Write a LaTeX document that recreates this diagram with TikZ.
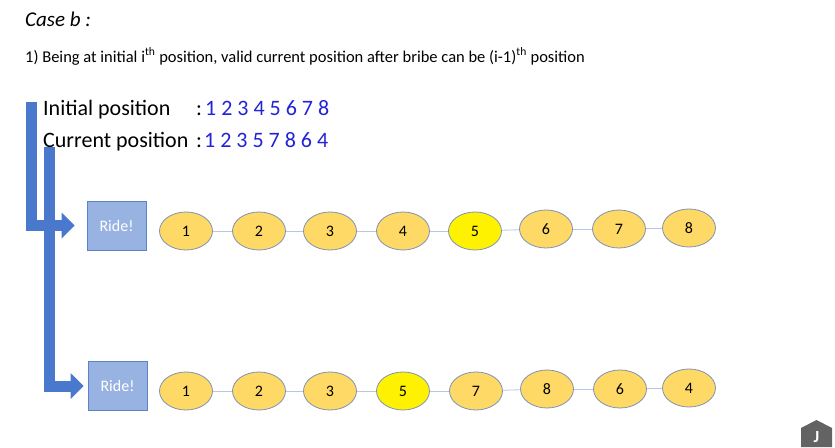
\documentclass[tikz,border=0pt]{standalone}
\usepackage{fontspec}
\setmainfont{Carlito}
\usetikzlibrary{shapes.geometric,arrows.meta}
\definecolor{ballfill}{HTML}{FFD966}
\definecolor{ballline}{HTML}{7F92B3}
\definecolor{hotfill}{HTML}{FFF200}
\definecolor{ridefill}{HTML}{98B3E2}
\definecolor{rideline}{HTML}{5B84C8}
\definecolor{arrowblue}{HTML}{4A78CC}
\definecolor{connblue}{HTML}{B4C7E7}
\definecolor{numblue}{HTML}{2323D8}
\definecolor{icongrey}{HTML}{636363}
\tikzset{
  ball/.style={ellipse, draw=ballline, line width=0.8pt, fill=ballfill, minimum width=53pt, minimum height=38pt, inner sep=0pt, font=\fontsize{16}{18}\selectfont},
  hot/.style={ball, fill=hotfill},
  ridebox/.style={rectangle, draw=rideline, line width=0.8pt, fill=ridefill, minimum width=59pt, minimum height=49pt, inner sep=0pt, text=white, font=\fontsize{16}{18}\selectfont},
  conn/.style={draw=connblue, line width=0.8pt},
  blockarrow/.style={draw=arrowblue, line width=11pt, line join=miter, -{Triangle[width=25pt,length=13pt]}},
  big/.style={font=\fontsize{22}{24}\selectfont, inner sep=0pt, anchor=base west},
  bignum/.style={big, text=numblue},
}
\begin{document}
\begin{tikzpicture}[x=1pt,y=-1pt]
\useasboundingbox[fill=white] (0,0) rectangle (835,447);
% title and line
\node[font=\fontsize{21}{22}\selectfont\itshape, inner sep=0pt, anchor=base west] (title) at (25,27) {Case b :};
\node[font=\fontsize{16.5}{18}\selectfont, inner sep=0pt, anchor=base west] (rule) at (25,62) {1) Being at initial i\textsuperscript{th} position, valid current position after bribe can be (i-1)\textsuperscript{th} position};
% position lines
\node[big] (initlabel) at (43,115) {Initial position};
\node[big] (initcolon) at (196,115) {:};
\node[bignum] (initnums) at (205,115) {1 2 3 4 5 6 7 8};
\node[big] (curlabel) at (43,147) {Current position};
\node[big] (curcolon) at (196,147) {:};
\node[bignum] (curnums) at (204,147) {1 2 3 5 7 8 6 4};
% ride boxes
\node[ridebox] (ride1) at (116.5,225.5) {Ride!};
\node[ridebox] (ride2) at (117.5,386) {Ride!};
% top row
\node[ball] (a1) at (186,231) {1};
\node[ball] (a2) at (259,231) {2};
\node[ball] (a3) at (330,231) {3};
\node[ball] (a4) at (403,231) {4};
\node[hot]  (a5) at (475,231) {5};
\node[ball] (a6) at (546,229) {6};
\node[ball] (a7) at (619,229) {7};
\node[ball] (a8) at (689,228) {8};
% bottom row
\node[ball] (b1) at (186,391) {1};
\node[ball] (b2) at (259,391) {2};
\node[ball] (b3) at (330,391) {3};
\node[hot]  (b4) at (403,391) {5};
\node[ball] (b5) at (476,391) {7};
\node[ball] (b6) at (547,389) {8};
\node[ball] (b7) at (620,389) {6};
\node[ball] (b8) at (689,388) {4};
% connectors between balls
\foreach \i/\j in {1/2,2/3,3/4,4/5,5/6,6/7,7/8}{
  \draw[conn] (a\i) -- (a\j);
  \draw[conn] (b\i) -- (b\j);
}
% block arrows
\coordinate (start1) at (31,102);
\coordinate (start2) at (49,147);
\draw[blockarrow, shorten >=12pt] (start1) |- (ride1.west);
\draw[blockarrow, shorten >=4pt] (start2) |- (ride2.west);
% corner icon
\fill[icongrey] (801,428) -- (816.5,420) -- (832,428) -- (832,447) -- (801,447) -- cycle;
\node[text=white, font=\fontsize{17}{18}\selectfont\bfseries, inner sep=0pt] (icon) at (816.5,437) {J};
\end{tikzpicture}
\end{document}
